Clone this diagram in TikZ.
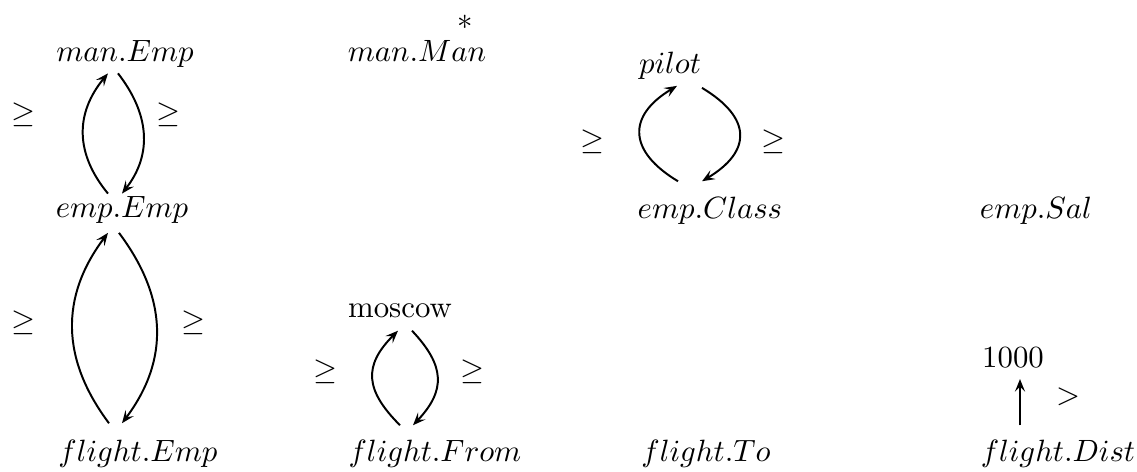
\documentclass[tikz,border=0pt]{standalone}
\usepackage{amsmath, amssymb}
\usepackage{tikz}
\usetikzlibrary{positioning, arrows.meta, calc}

\begin{document}
\begin{tikzpicture}[x=0.125mm, y=0.125mm,
  lab/.style={anchor=base, inner sep=1pt, font=\fontsize{10.95}{13}\selectfont},
  rel/.style={inner sep=1pt, font=\fontsize{10.95}{13}\selectfont},
  arc/.style={-{Stealth[length=4.5pt, width=3.6pt, inset=1.8pt]}, line width=0.7pt}]
\useasboundingbox (0,0) rectangle (1137,471);
\node[lab] (manemp) at (125,410) {$man.Emp$};
\node[lab] (manman) at (417,410) {$man.Man$};
\node[rel, inner sep=0pt] (star) at (465,449) {$\ast$};
\node[lab] (pilot) at (670,398) {$pilot$};
\node[lab] (empemp) at (122,254) {$emp.Emp$};
\node[lab] (empclass) at (710,253) {$emp.Class$};
\node[lab] (empsal) at (1036,253) {$emp.Sal$};
\node[lab] (moscow) at (400,154) {moscow};
\node[lab] (thousand) at (1013,104) {1000};
\node[lab] (flightemp) at (138,10) {$flight.Emp$};
\node[lab] (flightfrom) at (435,10) {$flight.From$};
\node[lab] (flightto) at (706,10) {$flight.To$};
\node[lab] (flightdist) at (1058,10) {$flight.Dist$};
\node[rel] (ge1) at (23,356) {$\geq$};
\node[rel] (ge2) at (168,356) {$\geq$};
\node[rel] (ge3) at (23,148) {$\geq$};
\node[rel] (ge4) at (193,148) {$\geq$};
\node[rel] (ge5) at (592,329) {$\geq$};
\node[rel] (ge6) at (773,329) {$\geq$};
\node[rel] (ge7) at (325,99) {$\geq$};
\node[rel] (ge8) at (472,99) {$\geq$};
\node[rel] (gt) at (1068,74) {$>$};
\draw[arc] ($(empemp.north)+(-14,-1)$) .. controls +(-33,40) and +(-33,-40) .. ($(manemp.south)+(-17,-3)$);
\draw[arc] ($(manemp.south)+(-7,-3)$) .. controls +(31,-40) and +(31,40) .. ($(empemp.north)+(0,-1)$);
\draw[arc] ($(flightemp.north)+(-29,13)$) .. controls +(-48,64) and +(-48,-64) .. ($(empemp.south)+(-14,-6.5)$);
\draw[arc] ($(empemp.south)+(-3,-6.5)$) .. controls +(48,-64) and +(48,64) .. ($(flightemp.north)+(-16,13)$);
\draw[arc] ($(empclass.north)+(-32,12)$) .. controls +(-50,30) and +(-50,-30) .. ($(pilot.south)+(7,-3.5)$);
\draw[arc] ($(pilot.south)+(32,-5.5)$) .. controls +(50,-30) and +(50,30) .. ($(empclass.north)+(-8,12)$);
\draw[arc] ($(flightfrom.north)+(-35,11)$) .. controls +(-35,35) and +(-35,-35) .. ($(moscow.south)+(-2,-10)$);
\draw[arc] ($(moscow.south)+(12,-10)$) .. controls +(33,-35) and +(33,35) .. ($(flightfrom.north)+(-22,11)$);
\draw[arc] ($(flightdist.north)+(-38,11)$) -- ($(thousand.south)+(7,-8)$);
\end{tikzpicture}
\end{document}
